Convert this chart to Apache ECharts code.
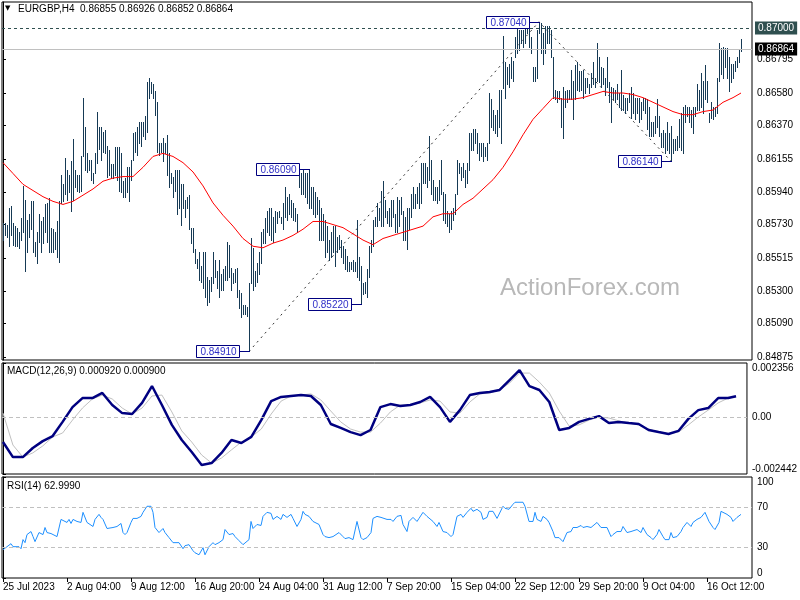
<!DOCTYPE html>
<html><head><meta charset="utf-8">
<script src="https://cdn.jsdelivr.net/npm/echarts@6/dist/echarts.min.js"></script>
<style>html,body{margin:0;padding:0;background:#fff}#c{width:800px;height:600px}</style>
</head><body><div id="c"></div>
<script>
// ---------- DATA ----------
const symbolTitle = 'EURGBP,H4';
const lastQuote = [0.86855, 0.86926, 0.86852, 0.86864]; // O H L C of last bar

const highs = [
.8574,.8574,.8573,.8584,.8585,.8574,.8572,.8571,.8568,.8577,
.8598,.8589,.8576,.8580,.8588,.8588,.8562,.8568,.8580,.8575,
.8578,.8586,.8587,.8590,.8571,.8570,.8568,.8575,.8588,.8605,
.8599,.8616,.8608,.8605,.8614,.8628,.8608,.8605,.8605,.8617,
.8655,.8636,.8619,.8615,.8615,.8606,.8619,.8646,.8636,.8636,
.8633,.8634,.8624,.8621,.8612,.8612,.8623,.8623,.8623,.8619,
.8601,.8603,.8610,.8610,.8615,.8632,.8633,.8636,.8639,.8639,
.8639,.8643,.8665,.8668,.8665,.8664,.8659,.8652,.8626,.8626,
.8629,.8626,.8631,.8619,.8606,.8604,.8608,.8608,.8608,.8599,
.8599,.8589,.8591,.8592,.8571,.8571,.8557,.8551,.8555,.8546,
.8555,.8555,.8539,.8537,.8539,.8555,.8550,.8543,.8550,.8541,
.8544,.8546,.8562,.8560,.8545,.8542,.8544,.8545,.8531,.8529,
.8521,.8521,.8520,.8535,.8564,.8558,.8543,.8548,.8555,.8568,
.8570,.8577,.8582,.8584,.8584,.8578,.8582,.8581,.8582,.8578,
.8587,.8597,.8591,.8593,.8589,.8587,.8584,.8580,.8608,.8606,
.8608,.8606,.8606,.8609,.8597,.8597,.8594,.8591,.8589,.8584,
.8580,.8576,.8572,.8563,.8568,.8572,.8572,.8565,.8566,.8563,
.8559,.8557,.8553,.8549,.8549,.8550,.8549,.8576,.8552,.8546,
.8535,.8536,.8544,.8559,.8563,.8576,.8578,.8587,.8584,.8595,
.8601,.8589,.8582,.8584,.8589,.8589,.8580,.8591,.8589,.8591,
.8582,.8578,.8584,.8584,.8593,.8597,.8593,.8597,.8600,.8613,
.8613,.8613,.8610,.8630,.8615,.8602,.8597,.8597,.8602,.8615,
.8594,.8593,.8582,.8580,.8582,.8584,.8593,.8615,.8613,.8610,
.8613,.8608,.8613,.8632,.8632,.8635,.8635,.8632,.8626,.8626,
.8626,.8623,.8626,.8658,.8654,.8647,.8644,.8647,.8660,.8660,
.8695,.8678,.8675,.8677,.8681,.8679,.8694,.8700,.8699,.8699,
.8699,.8701,.8703,.8702,.8694,.8675,.8675,.8699,.8704,.8703,
.8697,.8701,.8701,.8701,.8699,.8681,.8660,.8659,.8659,.8655,
.8662,.8659,.8660,.8660,.8673,.8666,.8676,.8678,.8672,.8672,
.8673,.8668,.8668,.8664,.8671,.8678,.8668,.8690,.8681,.8675,
.8674,.8668,.8681,.8665,.8662,.8661,.8660,.8664,.8658,.8673,
.8657,.8655,.8655,.8658,.8662,.8658,.8655,.8655,.8655,.8652,
.8655,.8655,.8654,.8649,.8639,.8639,.8643,.8654,.8643,.8632,
.8634,.8632,.8639,.8632,.8637,.8628,.8628,.8630,.8641,.8645,
.8649,.8650,.8649,.8649,.8647,.8649,.8649,.8664,.8660,.8671,
.8666,.8676,.8666,.8645,.8652,.8649,.8649,.8668,.8690,.8687,
.8688,.8687,.8687,.8681,.8677,.8677,.8679,.8681,.8686,.86926
];
const lows = [
.8563,.8566,.8565,.8559,.8566,.8560,.8559,.8559,.8558,.8563,
.8568,.8543,.8555,.8565,.8570,.8555,.8553,.8548,.8562,.8555,
.8561,.8568,.8562,.8555,.8555,.8555,.8557,.8552,.8549,.8587,
.8588,.8593,.8589,.8594,.8582,.8589,.8597,.8595,.8594,.8595,
.8617,.8608,.8607,.8608,.8602,.8600,.8606,.8613,.8622,.8615,
.8620,.8619,.8604,.8605,.8603,.8603,.8605,.8602,.8595,.8594,
.8591,.8591,.8594,.8588,.8602,.8615,.8620,.8618,.8626,.8624,
.8630,.8628,.8633,.8655,.8658,.8655,.8644,.8620,.8618,.8620,
.8614,.8619,.8605,.8597,.8600,.8591,.8595,.8580,.8584,.8573,
.8584,.8578,.8584,.8570,.8561,.8555,.8548,.8545,.8537,.8536,
.8532,.8526,.8521,.8523,.8530,.8535,.8539,.8532,.8526,.8531,
.8531,.8537,.8537,.8539,.8531,.8535,.8536,.8526,.8519,.8513,
.8515,.8515,.8514,.8491,.8535,.8531,.8533,.8536,.8541,.8548,
.8561,.8561,.8568,.8566,.8563,.8562,.8568,.8574,.8578,.8574,
.8570,.8578,.8576,.8580,.8578,.8576,.8575,.8568,.8597,.8593,
.8593,.8591,.8587,.8584,.8584,.8580,.8578,.8580,.8563,.8563,
.8563,.8552,.8555,.8550,.8552,.8555,.8546,.8555,.8557,.8552,
.8548,.8544,.8543,.8543,.8544,.8543,.8543,.8539,.8537,.8522,
.8528,.8529,.8526,.8539,.8555,.8559,.8572,.8572,.8576,.8572,
.8572,.8578,.8574,.8572,.8572,.8578,.8568,.8568,.8572,.8580,
.8563,.8563,.8557,.8570,.8578,.8584,.8584,.8587,.8584,.8587,
.8600,.8600,.8597,.8602,.8593,.8589,.8589,.8587,.8589,.8593,
.8576,.8574,.8572,.8568,.8570,.8576,.8580,.8593,.8606,.8602,
.8604,.8597,.8600,.8608,.8621,.8621,.8626,.8619,.8615,.8617,
.8614,.8617,.8615,.8626,.8636,.8634,.8632,.8630,.8636,.8626,
.8661,.8655,.8664,.8662,.8668,.8666,.8681,.8684,.8686,.8690,
.8688,.8690,.8697,.8688,.8684,.8666,.8666,.8668,.8697,.8684,
.8677,.8684,.8690,.8690,.8681,.8655,.8654,.8652,.8654,.8636,
.8629,.8649,.8652,.8654,.8654,.8641,.8654,.8660,.8659,.8660,
.8655,.8658,.8662,.8658,.8662,.8664,.8662,.8666,.8665,.8662,
.8664,.8657,.8662,.8652,.8639,.8654,.8652,.8654,.8649,.8647,
.8647,.8645,.8647,.8652,.8642,.8645,.8641,.8645,.8639,.8641,
.8647,.8645,.8635,.8630,.8630,.8630,.8632,.8636,.8630,.8623,
.8623,.8619,.8621,.8619,.8614,.8619,.8621,.8621,.8623,.8621,
.8619,.8639,.8643,.8639,.8636,.8632,.8643,.8647,.8647,.8649,
.8645,.8654,.8652,.8639,.8642,.8641,.8643,.8645,.8666,.8670,
.8668,.8675,.8668,.8659,.8665,.8668,.8672,.8675,.8678,.86852
];

// sampled indicator readings (bar index -> value)
const sampleBars = [0,5,10,15,20,25,30,35,40,45,50,55,60,65,70,75,80,85,90,95,
100,105,110,115,120,125,130,135,140,145,150,155,160,165,170,175,180,185,190,195,
200,205,210,215,220,225,230,235,240,245,250,255,260,265,270,275,280,285,290,295,
300,305,310,315,320,325,330,335,340,345,350,355,360,365,369];
const maValues = [
.8613,.8606,.8599,.8595,.8591,.8588,.8586,.8588,.8592,.8596,
.8601,.8603,.8604,.8604,.8610,.8617,.8619,.8617,.8613,.8607,
.8598,.8587,.8579,.8572,.8564,.8559,.8558,.8561,.8563,.8566,
.8570,.8575,.8575,.8573,.8571,.8567,.8563,.8560,.8564,.8566,
.8568,.8570,.8572,.8578,.8580,.8580,.8586,.8590,.8596,.8602,
.8610,.8620,.8631,.8641,.8648,.8655,.8654,.8654,.8655,.8657,
.8659,.8658,.8658,.8657,.8655,.8652,.8649,.8646,.8644,.8644,
.8646,.8647,.8652,.8655,.8658];
const macdMain = [
-0.00106,-0.00171,-0.00171,-0.00132,-0.00102,-0.00080,-0.00019,0.00045,0.00084,0.00084,
0.00106,0.00054,0.00019,0.00015,0.00063,0.00136,0.00054,-0.00032,-0.00097,-0.00149,
-0.00205,-0.00197,-0.00153,-0.00097,-0.00110,-0.00084,-0.00011,0.00071,0.00089,0.00093,
0.00097,0.00093,0.00054,-0.00028,-0.00045,-0.00063,-0.00076,-0.00054,0.00045,0.00058,
0.00050,0.00054,0.00067,0.00089,0.00045,-0.00019,0.00032,0.00097,0.00106,0.00110,
0.00119,0.00162,0.00205,0.00136,0.00119,0.00067,-0.00054,-0.00045,-0.00019,-0.00006,
0.00006,-0.00024,-0.00019,-0.00024,-0.00028,-0.00054,-0.00063,-0.00071,-0.00058,-0.00006,
0.00032,0.00041,0.00084,0.00084,0.00092];
const macdSignal = [
0.00019,-0.00119,-0.00171,-0.00153,-0.00123,-0.00084,-0.00067,-0.00011,0.00041,0.00080,
0.00097,0.00080,0.00041,0.00015,0.00041,0.00093,0.00097,0.00024,-0.00058,-0.00106,
-0.00162,-0.00197,-0.00175,-0.00140,-0.00106,-0.00084,-0.00050,0.00015,0.00071,0.00093,
0.00097,0.00102,0.00076,0.00028,-0.00019,-0.00050,-0.00063,-0.00063,-0.00024,0.00024,
0.00054,0.00054,0.00063,0.00076,0.00071,0.00024,0.00019,0.00067,0.00102,0.00106,
0.00119,0.00149,0.00192,0.00192,0.00153,0.00106,0.00028,-0.00037,-0.00032,-0.00011,
0.00002,-0.00002,-0.00015,-0.00024,-0.00032,-0.00050,-0.00063,-0.00071,-0.00063,-0.00032,
0.00002,0.00032,0.00063,0.00084,0.00090];

const rsiBars = [
0,2,4,5,8,9,10,11,12,14,
15,16,18,20,21,22,24,25,27,29,
30,32,33,34,35,37,39,40,42,43,
45,46,48,49,50,52,53,55,57,59,
60,61,62,64,65,67,69,70,72,74,
75,76,78,80,81,83,85,86,88,90,
91,93,95,96,98,100,101,103,105,106,
108,110,111,113,115,116,118,120,121,123,
124,125,127,129,130,132,134,135,137,139,
140,142,144,145,147,149,150,151,153,155,
156,158,160,161,163,165,166,168,170,171,
173,175,176,177,179,180,182,184,185,187,
189,190,192,194,195,197,199,200,202,203,
205,207,208,210,212,213,215,217,218,220,
222,224,225,227,229,230,232,234,235,237,
239,240,242,243,245,247,248,250,251,253,
255,256,258,260,261,263,265,266,267,269,
270,272,273,275,276,278,280,281,282,284,
285,287,289,290,292,294,295,297,299,300,
302,304,305,307,309,310,312,314,315,317,
319,320,322,324,325,327,328,330,331,333,
334,335,337,339,340,342,344,345,347,349,
350,351,353,355,356,358,359,360,362,364,
365,367,369];
const rsiValues = [
28,31,34,31,31,29,38,35,43,46,
41,36,45,43,50,45,44,43,41,58,
59,55,58,54,58,56,55,65,55,54,
51,58,63,60,58,49,48,50,51,54,
45,43,45,55,59,59,61,65,71,71,
65,50,45,49,45,40,35,36,35,29,
32,33,27,25,23,30,23,31,35,33,
35,38,48,43,44,41,37,33,32,38,
56,49,53,52,61,65,64,58,61,58,
63,60,63,59,51,58,66,63,61,56,
55,53,43,41,40,41,42,45,41,39,
40,38,39,56,40,38,40,45,59,61,
60,61,58,58,56,61,62,53,46,56,
60,56,59,65,61,62,56,51,55,46,
45,41,43,61,63,60,65,69,66,68,
65,58,60,66,66,59,58,71,69,68,
73,75,75,75,71,56,56,65,58,56,
61,58,55,46,40,40,36,35,45,46,
50,50,52,50,51,50,51,55,50,51,
50,41,43,46,46,51,45,46,45,48,
45,50,43,40,38,43,48,41,38,38,
45,40,41,46,50,55,51,55,58,60,
59,65,56,50,48,55,66,65,63,60,
56,60,63];

// swing annotations
const annoBars = [123, 153, 179, 268, 334];
const annoPrices = [0.84910, 0.86090, 0.85220, 0.87040, 0.86140];
const trendPoints = [0, 3, 4]; // indexes into annotations joined by dotted lines
const levelPrice = 0.87000;
const lastPrice = 0.86864;

// axes ticks
const priceTicks = [0.84875,0.85090,0.85300,0.85515,0.85730,0.85940,0.86155,0.86370,0.86580,0.86795];
const macdTicks = [-0.002442, 0, 0.002356];
const macdTickLabels = ['-0.002442', '0.00', '0.002356'];
const rsiTicks = [0, 30, 70, 100];
const xTickBars = [0,32,64,96,128,160,192,224,256,288,320,352];
const xTickLabels = ['25 Jul 2023','2 Aug 04:00','9 Aug 12:00','16 Aug 20:00','24 Aug 04:00','31 Aug 12:00','7 Sep 20:00','15 Sep 04:00','22 Sep 12:00','29 Sep 20:00','9 Oct 04:00','16 Oct 12:00'];
const macdTitle = 'MACD(12,26,9) 0.000920 0.000900';
const rsiTitle = 'RSI(14) 62.9990';

// ---------- CHART ----------
const FONT = 'Liberation Sans';
const BAR_COLOR = '#163a55';
const X_MIN = -0.5, X_MAX = 374.5;
const chart = echarts.init(document.getElementById('c'), null, {renderer: 'canvas'});

const barData = highs.map((h, i) => [i, lows[i], h]);
const pairs = (xs, ys) => xs.map((x, k) => [x, ys[k]]);

function hiddenX(g) {
  return {gridIndex: g, type: 'value', min: X_MIN, max: X_MAX, show: false};
}
const gridBase = {left: 2, right: 48, show: true, borderColor: '#000', borderWidth: 1, backgroundColor: 'transparent'};
const axisLabelBase = {color: '#000', fontSize: 10, fontFamily: FONT, margin: 5};

const option = {
  animation: false,
  backgroundColor: '#fff',
  textStyle: {fontFamily: FONT},
  grid: [
    Object.assign({top: 2, height: 358}, gridBase),
    Object.assign({top: 363, height: 111}, gridBase),
    Object.assign({top: 477, height: 101}, gridBase)
  ],
  xAxis: [
    hiddenX(0), hiddenX(1),
    {gridIndex: 2, type: 'value', min: X_MIN, max: X_MAX,
     axisLine: {show: false}, splitLine: {show: false},
     axisTick: {show: true, customValues: xTickBars, length: 4, lineStyle: {color: '#000'}},
     axisLabel: Object.assign({}, axisLabelBase, {customValues: xTickBars, align: 'left', margin: 4,
       formatter: v => xTickLabels[xTickBars.indexOf(v)]})}
  ],
  yAxis: [
    {gridIndex: 0, type: 'value', position: 'right', min: 0.84855, max: 0.87168, scale: true,
     splitLine: {show: false}, axisLine: {show: true, lineStyle: {color: '#000'}},
     axisTick: {show: true, customValues: priceTicks, length: 3, lineStyle: {color: '#000'}},
     axisLabel: Object.assign({}, axisLabelBase, {customValues: priceTicks, formatter: v => v.toFixed(5)})},
    {gridIndex: 1, type: 'value', position: 'right', min: -0.002442, max: 0.002356,
     splitLine: {show: false}, axisLine: {show: true, lineStyle: {color: '#000'}},
     axisTick: {show: true, customValues: macdTicks, length: 3, lineStyle: {color: '#000'}},
     axisLabel: Object.assign({}, axisLabelBase, {customValues: macdTicks,
       verticalAlignMinLabel: 'bottom', verticalAlignMaxLabel: 'top',
       formatter: v => macdTickLabels[macdTicks.indexOf(v)]})},
    {gridIndex: 2, type: 'value', position: 'right', min: 0, max: 100,
     splitLine: {show: false}, axisLine: {show: true, lineStyle: {color: '#000'}},
     axisTick: {show: true, customValues: rsiTicks, length: 3, lineStyle: {color: '#000'}},
     axisLabel: Object.assign({}, axisLabelBase, {customValues: rsiTicks,
       verticalAlignMinLabel: 'bottom', verticalAlignMaxLabel: 'top',
       formatter: v => String(v)})}
  ],
  series: [
    {
      type: 'custom', name: 'bars', xAxisIndex: 0, yAxisIndex: 0,
      data: barData, encode: {x: 0, y: [1, 2]},
      renderItem: function (params, api) {
        const t = api.coord([api.value(0), api.value(2)]);
        const b = api.coord([api.value(0), api.value(1)]);
        const x = Math.round(t[0]);
        const y1 = Math.round(t[1]), y2 = Math.round(b[1]);
        return {type: 'rect', shape: {x: x, y: y1, width: 1, height: Math.max(1, y2 - y1 + 1)},
                style: {fill: BAR_COLOR}};
      },
      z: 3
    },
    {
      type: 'line', name: 'MA', xAxisIndex: 0, yAxisIndex: 0, data: pairs(sampleBars, maValues),
      showSymbol: false, lineStyle: {color: '#ff0000', width: 1}, z: 4, silent: true,
      markLine: {
        silent: true, symbol: 'none', animation: false, precision: 6,
        data: [
          {yAxis: levelPrice, lineStyle: {color: '#2f4f4f', type: [3, 3], width: 1},
           label: {show: true, position: 'end', distance: 3, formatter: levelPrice.toFixed(5),
                   color: '#fff', backgroundColor: '#2f4f4f', padding: [2, 3, 1, 3], fontSize: 10, fontFamily: FONT}},
          {yAxis: lastPrice, lineStyle: {color: '#c0c0c0', type: 'solid', width: 1},
           label: {show: true, position: 'end', distance: 3, formatter: lastPrice.toFixed(5),
                   color: '#fff', backgroundColor: '#000', padding: [2, 3, 1, 3], fontSize: 10, fontFamily: FONT}}
        ]
      }
    },
    {
      type: 'line', name: 'trend', xAxisIndex: 0, yAxisIndex: 0,
      data: trendPoints.map(k => [annoBars[k], annoPrices[k]]),
      showSymbol: false, lineStyle: {color: '#333', width: 1, type: [2, 4]}, z: 2, silent: true
    },
    {
      type: 'custom', name: 'anno', xAxisIndex: 0, yAxisIndex: 0, clip: false,
      data: pairs(annoBars, annoPrices), encode: {x: 0, y: 1}, z: 6,
      renderItem: function (params, api) {
        const p = api.coord([api.value(0), api.value(1)]);
        const px = Math.round(p[0]), py = Math.round(p[1]);
        const w = 43, h = 12;
        const bx = px - 10 - w, by = py - 6;
        return {type: 'group', children: [
          {type: 'line', shape: {x1: bx + w, y1: py + 0.5, x2: px + 1, y2: py + 0.5},
           style: {stroke: '#000080', lineWidth: 1}},
          {type: 'rect', shape: {x: bx + 0.5, y: by + 0.5, width: w, height: h},
           style: {fill: '#fff', stroke: '#000080', lineWidth: 1}},
          {type: 'text', x: bx + w / 2 + 1, y: by + h / 2 + 1,
           style: {text: api.value(1).toFixed(5), fill: '#3030c8', font: '10px ' + FONT,
                   align: 'center', verticalAlign: 'middle'}}
        ]};
      }
    },
    {
      type: 'line', name: 'MACD', xAxisIndex: 1, yAxisIndex: 1, data: pairs(sampleBars, macdMain),
      showSymbol: false, lineStyle: {color: '#000080', width: 2.5}, z: 4, silent: true,
      markLine: {silent: true, symbol: 'none', label: {show: false},
        lineStyle: {color: '#c0c0c0', type: [4, 3], width: 1}, data: [{yAxis: 0}]}
    },
    {
      type: 'line', name: 'Signal', xAxisIndex: 1, yAxisIndex: 1, data: pairs(sampleBars, macdSignal),
      showSymbol: false, lineStyle: {color: '#c0c0c0', width: 1}, z: 3, silent: true
    },
    {
      type: 'line', name: 'RSI', xAxisIndex: 2, yAxisIndex: 2, data: pairs(rsiBars, rsiValues),
      showSymbol: false, lineStyle: {color: '#1e90ff', width: 1}, z: 4, silent: true,
      markLine: {silent: true, symbol: 'none', label: {show: false},
        lineStyle: {color: '#c0c0c0', type: [4, 3], width: 1}, data: [{yAxis: 70}, {yAxis: 30}]}
    }
  ],
  graphic: [
    {type: 'text', left: 5, top: 5, style: {text: '\u25BC', fill: '#000', font: '7px DejaVu Sans'}},
    {type: 'text', left: 18, top: 4, style: {text: symbolTitle + '  ' + lastQuote.map(v => v.toFixed(5)).join(' '),
      fill: '#000', font: '10px ' + FONT}},
    {type: 'text', left: 7, top: 366, style: {text: macdTitle, fill: '#000', font: '10px ' + FONT}},
    {type: 'text', left: 7, top: 481, style: {text: rsiTitle, fill: '#000', font: '10px ' + FONT}},
    {type: 'text', left: 500, top: 276, z: 0, style: {text: 'ActionForex.com', fill: '#b8b8b8', font: '24px ' + FONT}}
  ]
};
chart.setOption(option);
</script>
</body></html>
